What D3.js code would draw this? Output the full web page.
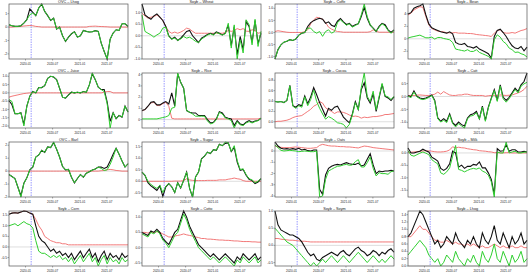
<!DOCTYPE html>
<html>
<head>
<meta charset="utf-8">
<script src="https://cdn.jsdelivr.net/npm/d3@7"></script>
<style>
  body { margin: 0; background: #fff; }
  text { font-family: "Liberation Sans", Arial, sans-serif; fill: #222; }
</style>
</head>
<body>
<svg id="chart" width="532" height="276"></svg>
<script>
// sample dates shared by every panel
const dates = ["2019-09-12","2019-10-02","2019-10-22","2019-11-11","2019-12-01","2019-12-21","2020-01-10","2020-01-30",
  "2020-02-19","2020-03-10","2020-03-30","2020-04-19","2020-05-09","2020-05-29","2020-06-18","2020-07-08","2020-07-28",
  "2020-08-17","2020-09-06","2020-09-26","2020-10-16","2020-11-05","2020-11-25","2020-12-15","2021-01-04","2021-01-24",
  "2021-02-13","2021-03-05","2021-03-25","2021-04-14","2021-05-04","2021-05-24","2021-06-13","2021-07-03","2021-07-23",
  "2021-08-12","2021-09-01","2021-09-21","2021-10-11","2021-10-31","2021-11-20"];
const xTickLabels = ["2020-01", "2020-07", "2021-01", "2021-07"];
const shockDate = "2020-02-08";

const titles = ["OVC – Lhog", "Soyb – Wheat", "Soyb – Coffe", "Soyb – Bean",
  "OVC – Juice", "Soyb – Rice", "Soyb – Cocoa", "Soyb – Catt",
  "OVC – Barl", "Soyb – Sugar", "Soyb – Oats", "Soyb – Milk",
  "Soyb – Corn", "Soyb – Cotto", "Soyb – Soym", "Soyb – Lhog"];

const p01Black = [0.17,0.1,0.05,0.05,0.1,0.3,0.55,1.35,1.1,0.85,1.42,1.72,1.17,0.85,0.5,0.67,-0.15,0,-0.65,-1.07,-0.75,-0.5,-0.35,-0.75,-0.65,-0.25,-0.32,-0.37,-0.35,-0.27,-0.32,-1.2,-1.82,-2.38,-0.9,-0.45,-0.2,-0.25,0.25,0.25,0.05];
const p01Green = [0.17,0.1,0.05,0.05,0.1,0.3,0.55,0.92,1.05,0.85,1.42,1.72,1.17,0.85,0.5,0.67,-0.15,0,-0.65,-1.07,-0.75,-0.5,-0.35,-0.75,-0.65,-0.25,-0.32,-0.37,-0.35,-0.27,-0.32,-1.2,-1.82,-2.38,-0.9,-0.45,-0.2,-0.25,0.25,0.25,0.05];
const p01Red = [0,0,0.02,0.03,0.05,0.08,0.1,0.12,0.1,0.05,0.03,0,0,0,0,0,0,0,0,0,0,0,0,0,0,0,0,0.05,0.06,0.07,0.05,0.04,0.03,0.02,0,0,0,0,0,0,0];

const p02Black = [1.37,0.9,0.8,0.71,0.86,0.94,0.8,0.66,0.4,0,-0.14,-0.06,-0.2,-0.1,0.04,0.19,0.23,0,-0.14,-0.29,-0.1,-0.03,0.06,0.11,0.06,0.17,0.11,0.04,0.11,0.47,-0.43,0.4,-0.81,-0.03,-0.6,0.61,0.4,-0.29,0.66,-0.34,0.11];
const p02Green = [0.9,0.19,0.11,0.04,-0.06,0.04,0.11,0.33,0.37,-0.03,-0.14,-0.1,-0.2,-0.14,-0.03,-0.1,-0.06,-0.14,-0.24,-0.29,-0.14,-0.06,0.03,0.09,0.03,0.14,0.09,0.03,0.09,0.54,-0.53,0.47,-1.0,-0.17,-0.74,0.69,0.47,-0.39,0.71,-0.46,0.19];
const p02Red = [0.97,0.86,0.76,0.8,0.83,0.9,0.8,0.66,0.4,0.19,0.11,0.16,0.11,0.16,0.23,0.33,0.29,0.19,0.11,0.11,0.11,0.11,0.11,0.11,0.11,0.11,0.11,0.11,0.14,0.23,0.19,0.23,0.31,0.26,0.31,0.2,0.19,0.26,0.23,0.11,0.14];

const p03Black = [-1.1,-0.71,-0.51,-0.4,-0.36,-0.3,-0.33,-0.27,-0.11,-0.03,0,0.25,0.41,0.49,0.55,0.59,0.55,0.38,0.44,0.3,0.25,0.47,0.58,0.44,0.33,0.38,0.25,0.32,0.36,0.66,1.04,0.59,0.3,0.18,0.05,0.25,0.38,0.32,0.11,0,0.11];
const p03Green = [-1.1,-0.71,-0.51,-0.4,-0.36,-0.3,-0.33,-0.27,-0.11,-0.03,0,0.18,0.18,0.04,-0.03,0.04,-0.16,0.04,0.11,-0.03,0.04,0.41,0.52,0.41,0.3,0.36,0.22,0.29,0.36,0.73,1.18,0.66,0.33,0.16,0.04,0.22,0.36,0.27,0.08,-0.03,0.08];
const p03Red = [0.04,0.07,0.05,0.03,0.01,0,0,0,0,0,0.03,0.11,0.36,0.52,0.63,0.6,0.55,0.41,0.22,0.14,0.08,0.04,0.03,0.01,0.01,0.01,0.01,0.01,0.01,0.01,0.01,0.01,0.03,0.11,0.05,0.01,0.01,0.01,0.01,0.01,0.01];

const p04Black = [4.0,4.21,4.91,5.17,5.33,5.6,3.84,2.4,1.76,1.55,1.33,1.12,1.01,0.91,1.12,0.8,-0.59,-0.85,-0.91,-0.75,-1.23,-1.33,-1.49,-1.23,-1.65,-1.87,-2.13,-2.4,-3.1,0.37,1.33,1.55,1.01,0.37,-0.43,-1.12,-1.49,-1.6,-1.23,-1.92,-1.33];
const p04Green = [0.11,0.27,0.37,0.48,0.59,0.37,0.16,0.16,0.27,-0.05,0.21,0.21,0.05,-0.05,-0.16,-0.59,-1.65,-1.76,-1.87,-1.97,-1.76,-2.03,-2.03,-1.76,-2.19,-2.4,-2.61,-2.83,-3.25,-0.16,0.64,0.27,-0.43,-0.8,-1.49,-1.76,-2.19,-2.13,-2.4,-2.56,-2.93];
const p04Red = [3.84,4.11,4.64,4.91,5.17,5.07,3.57,2.24,1.65,1.44,1.23,1.17,1.12,0.96,0.96,0.96,1.01,0.91,0.91,0.91,0.85,0.85,0.8,0.69,0.64,0.59,0.53,0.48,0.37,0.91,1.33,1.44,1.01,0.91,0.91,1.01,0.91,1.12,1.33,1.44,1.65];

const p05Black = [-0.46,-0.72,-1.26,-1.26,-1.2,-1.9,-0.8,-0.2,0.08,0,0.32,0.32,0.44,0.88,1.0,0.96,0.8,0.28,-0.26,-0.32,-0.12,0.04,0,0.04,0,0.08,0.04,0.48,1.15,0.8,0.34,0.2,0.2,-0.56,-1.72,-1.2,-1.56,-1.36,-1.46,-0.8,-1.16];
const p05Green = [-0.4,-0.52,-1.26,-1.26,-1.2,-2.0,-0.8,-0.2,0.08,0,0.32,0.32,0.44,0.88,1.0,0.96,0.8,0.28,-0.26,-0.32,-0.12,0.04,0,0.04,0,0.08,0.04,0.48,1.2,0.8,0.34,0.2,0.08,-0.66,-2.12,-1.2,-1.56,-1.36,-1.46,-0.8,-1.16];
const p05Red = [-0.26,-0.2,-0.16,-0.12,-0.08,-0.04,-0.02,0,0,0,0,0,0,0,0,0,0,0,0,0,0,0,0,0,0,0,0,0,0,0,0,0,0.04,0.08,0.08,0,0,0,0,0,0];

const p06Black = [0.8,0.89,1.19,1.54,1.6,1.31,1.31,1.48,1.6,1.39,2.37,1.19,4.07,3.32,2.79,0.8,0.65,0.59,0.59,0.36,0.36,0.36,0,-0.3,-0.24,0.06,0.71,0.59,0.21,0.12,0.06,-0.53,-0.09,-0.39,-0.47,-0.24,-0.09,-0.24,-0.12,-0.09,0.12];
const p06Green = [0.06,0.06,0.06,0.06,0.06,0.06,0.12,0.18,0.24,0.36,1.01,1.1,4.15,3.32,2.79,0.8,0.65,0.5,0.3,0.3,0.3,0.3,-0.12,-0.39,-0.3,0,0.65,0.5,0.15,0.06,-0.09,-0.75,-0.18,-0.47,-0.53,-0.3,-0.18,-0.3,-0.18,-0.09,0.12];
const p06Red = [0.77,0.89,1.19,1.48,1.54,1.25,1.25,1.42,1.54,1.19,0.12,0.06,0.06,0.06,0.06,0.06,0.06,0.06,0.06,0.06,0.06,0.06,0.06,0.06,0.06,0.06,0.06,0.06,0.06,0.06,0.06,0.06,0.06,0.06,0.06,0.06,0.06,0.06,0.06,0.06,0.12];

const p07Black = [0.39,0.38,0.39,0.37,0.41,0.7,0.31,0.28,0.33,0.31,0.5,0.35,0.48,0.66,0.52,0.37,0.24,0.11,0.26,0.22,0.28,0.3,0.2,0.09,0.03,-0.02,0.15,0.39,0.24,0.62,0.75,0.46,0.36,0.54,0.2,0.46,0.72,0.49,0.46,0.41,0.48];
const p07Green = [0.39,0.38,0.39,0.37,0.41,0.69,0.3,0.26,0.31,0.28,0.48,0.31,0.43,0.61,0.39,0.26,0.15,0.05,0.1,0.07,0.03,-0.02,-0.03,-0.05,-0.12,-0.05,0.13,0.37,0.23,0.66,0.94,0.49,0.39,0.59,0.23,0.49,0.74,0.5,0.48,0.43,0.49];
const p07Red = [0,0.01,0.01,0.02,0.03,0.05,0.08,0.1,0.11,0.12,0.16,0.2,0.24,0.3,0.33,0.39,0.36,0.27,0.23,0.2,0.16,0.19,0.19,0.18,0.16,0.13,0.1,0.11,0.1,0.07,0.09,0.08,0.09,0.1,0.1,0.11,0.12,0.14,0.14,0.15,0.16];

const p08Black = [0.04,-0.01,0.22,0.01,-0.06,-0.09,-0.06,-0.01,0.06,-0.15,-0.83,-0.96,-0.86,-0.96,-0.67,-1.01,-1.12,-0.99,-1.09,-1.14,-0.83,-0.71,-0.67,-0.58,-0.86,-0.37,-0.92,-0.41,-0.06,0.27,-0.15,0.45,-0.03,-0.15,-0.03,0.14,0.32,0.19,0.45,0.58,0.91];
const p08Green = [0.01,-0.04,0.17,-0.01,-0.09,-0.12,-0.09,-0.04,0.04,-0.19,-0.86,-0.99,-0.92,-1.01,-0.71,-1.05,-1.18,-1.05,-1.14,-1.22,-0.86,-0.76,-0.73,-0.63,-0.88,-0.41,-0.96,-0.45,-0.09,0.23,-0.19,0.4,-0.09,-0.22,-0.09,0.1,0.27,0.14,0.4,0.49,0.55];
const p08Red = [0.04,0.04,0.04,0.05,0.06,0.05,0.04,0.04,0.06,0.09,0.17,0.09,0.19,0.12,0.06,0.04,0.04,0.06,0.06,0.09,0.09,0.06,0.04,0.04,0.04,0.04,0.01,0.03,0.04,0.04,0.05,0.06,0.05,0.04,0.05,0.06,0.1,0.14,0.19,0.27,0.4];

const p09Black = [-0.26,-0.42,-0.57,-1.25,-1.9,-0.94,-0.52,0.1,0.31,1.09,1.25,1.61,1.45,1.87,1.82,2.2,1.69,1.09,0.36,0.1,0.13,-0.47,-0.91,-0.57,-0.26,-0.47,-0.16,-0.05,0.08,0.16,0.31,0.31,0.21,0.31,0.78,1.3,1.77,1.3,0.78,0.31,0.57];
const p09Green = [-0.26,-0.42,-0.57,-1.25,-2.0,-0.94,-0.52,0.1,0.31,1.09,1.25,1.61,1.45,1.87,1.82,2.25,1.69,1.09,0.36,0.1,0.13,-0.47,-0.91,-0.57,-0.26,-0.47,-0.16,-0.05,0.08,0.16,0.31,0.21,0.05,0.1,0.52,1.09,1.77,1.3,0.78,0.31,0.57];
const p09Red = [0,0,0,0,0,0,0,0,0,0,0,0,0,0,0,0,0,0,0,0,0,0,0,0,0,0,0,0,0,0,0,0.03,0.05,0.1,0.13,0.1,0.05,0.03,0,0,0];

const p10Black = [0.4,0.26,-0.06,-0.2,-0.29,-0.4,-0.2,-0.65,-0.24,-0.1,-0.24,-0.49,-0.06,-0.29,0.04,0.4,-0.31,-0.68,0.19,0.4,0.97,1.09,1.26,1.2,1.37,1.34,1.6,1.54,1.64,1.66,1.29,1.47,0.83,0.47,0.51,0.26,0.09,0.03,-0.1,-0.03,0.11];
const p10Green = [0.4,0.26,0,-0.14,-0.23,-0.31,-0.17,-0.49,-0.21,-0.1,-0.24,-0.49,-0.06,-0.29,0.04,0.4,-0.31,-0.68,0.19,0.4,0.97,1.09,1.26,1.2,1.37,1.34,1.6,1.54,1.7,1.66,1.29,1.54,0.9,0.51,0.54,0.29,0.11,0.06,-0.06,0,0.11];
const p10Red = [0,0,0,0,0,0,0,0,0,0,0,0.01,0.01,0.01,0.03,0.11,0.06,0.04,0.03,0.03,0.03,0.03,0.04,0.04,0.04,0.04,0.06,0.06,0.06,0.09,0.11,0.14,0.11,0.09,0.03,0,0,0,0,0,0];

const p11Black = [0.8,0.44,0.24,0.18,0.21,0.15,0.21,0.15,0.24,0.09,0.15,0.03,0,0.09,0.09,-3.41,-3.85,-2.13,-1.54,-1.36,-1.24,-1.19,-1.24,-1.13,-1.04,-1.13,-1.19,-1.19,-1.07,-1.33,-1.24,-0.74,-0.24,-1.24,-2.01,-1.78,-1.84,-1.78,-1.78,-1.72,-1.78];
const p11Green = [0.53,0.3,0.06,0,0.03,0.06,0.03,0,-0.06,-0.03,0,-0.03,-0.06,-0.06,0,-4.09,-4.0,-2.52,-1.78,-1.63,-1.48,-1.36,-1.33,-1.24,-1.19,-1.27,-1.24,-0.95,-0.77,-1.42,-1.42,-1.04,-0.53,-1.54,-2.22,-1.93,-2.01,-2.01,-2.07,-1.84,-1.78];
const p11Red = [0.44,0.36,0.33,0.3,0.3,0.3,0.33,0.36,0.33,0.3,0.27,0.24,0.24,0.27,0.3,0.5,0.59,0.53,0.47,0.44,0.44,0.41,0.39,0.39,0.36,0.36,0.33,0.3,0.27,0.36,0.44,0.41,0.36,0.3,0.27,0.24,0.21,0.18,0.15,0.12,0.09];

const p12Black = [0.2,0,0,0.04,0.07,0.15,0.09,0.04,-0.17,-0.24,-0.33,-0.62,-0.7,-0.62,-0.44,0.07,0,-0.57,-0.49,-0.62,-0.54,-0.54,-0.46,-0.49,-0.36,-0.6,-0.6,-0.8,-1.06,-1.66,0.17,0.07,0.09,0.33,0.07,0.13,0.13,0.04,0.04,0.07,0.04];
const p12Green = [0.09,-0.09,-0.13,-0.07,-0.01,0.04,-0.01,-0.07,-0.27,-0.36,-0.44,-0.8,-0.86,-0.76,-0.6,-0.13,0.3,-0.66,-0.7,-0.76,-0.7,-0.65,-0.62,-0.65,-0.6,-0.73,-0.78,-0.89,-1.16,-1.77,0.04,0,0,0.44,0,0.04,0.07,0,0,0.03,0.04];
const p12Red = [0.01,0.03,0.04,0.05,0.07,0.08,0.09,0.08,0.07,0.05,0.04,0.04,0.05,0.07,0.12,0.25,0.2,0.23,0.21,0.2,0.17,0.15,0.13,0.12,0.09,0.08,0.07,0.05,0.04,0.01,0.01,0,0,0.01,0.01,0,0,0,0,0,0];

const p13Black = [1.55,1.6,1.62,1.6,1.65,1.7,1.68,1.6,1.55,1.0,0.5,0.3,0.2,0.0,-0.2,-0.1,-0.3,-0.2,-0.4,-0.3,-0.5,-0.3,-0.6,-0.4,-0.2,-0.5,-0.3,-0.1,-0.5,-0.3,-0.7,-0.4,-0.2,-0.6,-0.3,-0.5,-0.4,-0.6,-0.3,-0.5,-0.4];
const p13Green = [1.0,1.05,1.1,1.0,1.1,1.2,1.1,1.05,0.9,0.3,-0.2,-0.3,-0.3,-0.4,-0.5,-0.4,-0.5,-0.4,-0.6,-0.5,-0.7,-0.5,-0.8,-0.6,-0.4,-0.7,-0.5,-0.3,-0.7,-0.5,-0.9,-0.6,-0.4,-0.8,-0.5,-0.7,-0.6,-0.8,-0.5,-0.7,-0.6];
const p13Red = [1.55,1.6,1.62,1.6,1.65,1.7,1.68,1.6,1.55,1.3,1.0,0.8,0.5,0.4,0.3,0.25,0.2,0.2,0.15,0.15,0.1,0.1,0.1,0.1,0.1,0.1,0.1,0.1,0.1,0.1,0.1,0.1,0.1,0.1,0.1,0.1,0.1,0.1,0.1,0.1,0.1];

const p14Black = [0.5,0.45,0.4,0.55,0.5,0.6,0.5,0.3,0.2,0.1,0.3,0.5,0.6,0.9,1.2,1.0,0.7,0.5,0.3,0.1,0.0,-0.1,-0.2,-0.3,-0.2,-0.3,-0.4,-0.3,-0.2,-0.3,-0.4,-0.5,-0.3,-0.4,-0.2,-0.3,-0.4,-0.3,-0.2,-0.4,-0.3];
const p14Green = [0.45,0.4,0.35,0.5,0.45,0.55,0.45,0.25,0.15,0.0,0.2,0.4,0.5,0.8,1.1,0.9,0.6,0.4,0.2,0.0,-0.1,-0.2,-0.3,-0.4,-0.3,-0.4,-0.5,-0.4,-0.3,-0.4,-0.5,-0.6,-0.4,-0.5,-0.3,-0.4,-0.5,-0.4,-0.3,-0.5,-0.4];
const p14Red = [0.5,0.5,0.48,0.5,0.5,0.52,0.5,0.45,0.4,0.35,0.35,0.38,0.4,0.42,0.45,0.42,0.4,0.38,0.35,0.33,0.3,0.3,0.28,0.28,0.27,0.26,0.25,0.25,0.24,0.24,0.23,0.22,0.22,0.21,0.2,0.2,0.2,0.19,0.19,0.18,0.18];

const p15Black = [1.0,0.6,0.45,0.4,0.35,0.3,0.3,0.25,0.2,0.1,-0.05,-0.2,-0.3,-0.25,-0.4,-0.45,-0.35,-0.3,-0.25,-0.2,-0.25,-0.3,-0.2,-0.15,-0.25,-0.3,-0.2,-0.1,-0.05,-0.15,-0.2,-0.3,-0.25,-0.15,-0.2,-0.3,-0.2,-0.25,-0.15,-0.1,-0.2];
const p15Green = [0.5,0.4,0.3,0.2,0.1,0.05,0,-0.1,-0.2,-0.3,-0.4,-0.5,-0.6,-0.5,-0.6,-0.5,-0.4,-0.5,-0.4,-0.3,-0.4,-0.5,-0.4,-0.3,-0.4,-0.5,-0.4,-0.3,-0.2,-0.3,-0.4,-0.5,-0.4,-0.3,-0.4,-0.5,-0.4,-0.5,-0.4,-0.3,-0.4];
const p15Red = [0.2,0.2,0.18,0.17,0.16,0.15,0.15,0.14,0.13,0.12,0.12,0.11,0.1,0.1,0.1,0.1,0.1,0.1,0.1,0.1,0.1,0.1,0.1,0.1,0.1,0.1,0.1,0.1,0.1,0.1,0.1,0.1,0.1,0.1,0.1,0.1,0.1,0.1,0.1,0.1,0.1];

const p16Black = [0.8,0.9,1.1,1.3,1.5,1.4,1.2,1.0,0.8,0.6,0.7,0.5,0.6,0.8,0.7,0.6,0.9,0.7,0.6,0.5,0.7,0.6,0.8,0.6,0.5,0.9,0.7,0.6,0.8,1.1,0.7,0.6,0.9,0.7,0.5,0.8,0.6,0.7,0.9,0.6,0.7];
const p16Green = [0.3,0.4,0.5,0.6,0.7,0.6,0.5,0.3,0.2,0.1,0.2,0.0,0.1,0.3,0.2,0.1,0.4,0.2,0.1,0.0,0.2,0.1,0.3,0.1,0.0,0.4,0.2,0.1,0.3,0.6,0.2,0.1,0.4,0.2,0.0,0.3,0.1,0.2,0.4,0.1,0.2];
const p16Red = [0.8,0.8,0.9,1.0,1.1,1.0,1.0,0.9,0.8,0.7,0.7,0.65,0.65,0.7,0.65,0.6,0.65,0.6,0.6,0.55,0.6,0.55,0.6,0.55,0.5,0.55,0.5,0.5,0.55,0.6,0.55,0.5,0.55,0.5,0.5,0.55,0.5,0.5,0.55,0.5,0.5];

const panels = [
  [p01Black, p01Green, p01Red], [p02Black, p02Green, p02Red], [p03Black, p03Green, p03Red], [p04Black, p04Green, p04Red],
  [p05Black, p05Green, p05Red], [p06Black, p06Green, p06Red], [p07Black, p07Green, p07Red], [p08Black, p08Green, p08Red],
  [p09Black, p09Green, p09Red], [p10Black, p10Green, p10Red], [p11Black, p11Green, p11Red], [p12Black, p12Green, p12Red],
  [p13Black, p13Green, p13Red], [p14Black, p14Green, p14Red], [p15Black, p15Green, p15Red], [p16Black, p16Green, p16Red]
].map(([black, green, red], i) => ({ title: titles[i], black, green, red }));

const cellW = 133, cellH = 69;
const margin = { top: 4, right: 5, bottom: 10, left: 9 };

const parseDay = d3.timeParse("%Y-%m-%d");
const parseMonth = d3.timeParse("%Y-%m");
const days = dates.map(parseDay);

const svg = d3.select("#chart");

const x = d3.scaleTime()
  .domain(d3.extent(days))
  .range([margin.left, cellW - margin.right]);

function fmtTicks(ticks) {
  const step = ticks.length > 1 ? ticks[1] - ticks[0] : 1;
  const f = d3.format(`.${d3.precisionFixed(step)}f`);
  return (v) => f(v).replace("−", "-");
}

panels.forEach((p, i) => {
  const col = i % 4, row = Math.floor(i / 4);
  const g = svg.append("g")
    .attr("transform", `translate(${col * cellW},${row * cellH})`);

  const y = d3.scaleLinear()
    .domain(d3.extent([...p.black, ...p.green, ...p.red]))
    .range([cellH - margin.bottom, margin.top]);

  const [x0, x1] = x.range();
  const [y0, y1] = y.range();

  // zero reference
  g.append("line")
    .attr("x1", x0).attr("x2", x1)
    .attr("y1", y(0)).attr("y2", y(0))
    .attr("stroke", "#c8c8c8").attr("stroke-width", 0.6);

  // shock date
  g.append("line")
    .attr("x1", x(parseDay(shockDate))).attr("x2", x(parseDay(shockDate)))
    .attr("y1", y1).attr("y2", y0)
    .attr("stroke", "#6f6fff").attr("stroke-width", 0.7)
    .attr("stroke-dasharray", "1.5,1");

  const line = d3.line()
    .x((d, j) => x(days[j]))
    .y((d) => y(d));

  g.append("path").datum(p.red)
    .attr("d", line).attr("fill", "none")
    .attr("stroke", "#f06a6a").attr("stroke-width", 0.9);
  g.append("path").datum(p.black)
    .attr("d", line).attr("fill", "none")
    .attr("stroke", "#111").attr("stroke-width", 1.1);
  g.append("path").datum(p.green)
    .attr("d", line).attr("fill", "none")
    .attr("stroke", "#2fcf2f").attr("stroke-width", 1.0);

  // frame
  g.append("rect")
    .attr("x", x0).attr("y", y1)
    .attr("width", x1 - x0).attr("height", y0 - y1)
    .attr("fill", "none").attr("stroke", "#555").attr("stroke-width", 0.7);

  // y axis
  const yt = y.ticks(5);
  const yf = fmtTicks(yt);
  const ya = g.append("g");
  ya.selectAll("line").data(yt).join("line")
    .attr("x1", x0 - 1.5).attr("x2", x0)
    .attr("y1", y).attr("y2", y)
    .attr("stroke", "#555").attr("stroke-width", 0.5);
  ya.selectAll("text").data(yt).join("text")
    .attr("x", x0 - 2).attr("y", (d) => y(d) + 1.1)
    .attr("text-anchor", "end")
    .attr("font-size", 3.3)
    .text(yf);

  // x axis
  const xa = g.append("g");
  const xt = xTickLabels.map((s) => ({ label: s, date: parseMonth(s) }));
  xa.selectAll("line").data(xt).join("line")
    .attr("x1", (d) => x(d.date)).attr("x2", (d) => x(d.date))
    .attr("y1", y0).attr("y2", y0 + 1.5)
    .attr("stroke", "#555").attr("stroke-width", 0.5);
  xa.selectAll("text").data(xt).join("text")
    .attr("x", (d) => x(d.date)).attr("y", y0 + 5.5)
    .attr("text-anchor", "middle")
    .attr("font-size", 3.0)
    .text((d) => d.label);

  // title
  g.append("text")
    .attr("x", (x0 + x1) / 2).attr("y", 3.2)
    .attr("text-anchor", "middle")
    .attr("font-size", 3.8)
    .text(p.title);
});
</script>
</body>
</html>
